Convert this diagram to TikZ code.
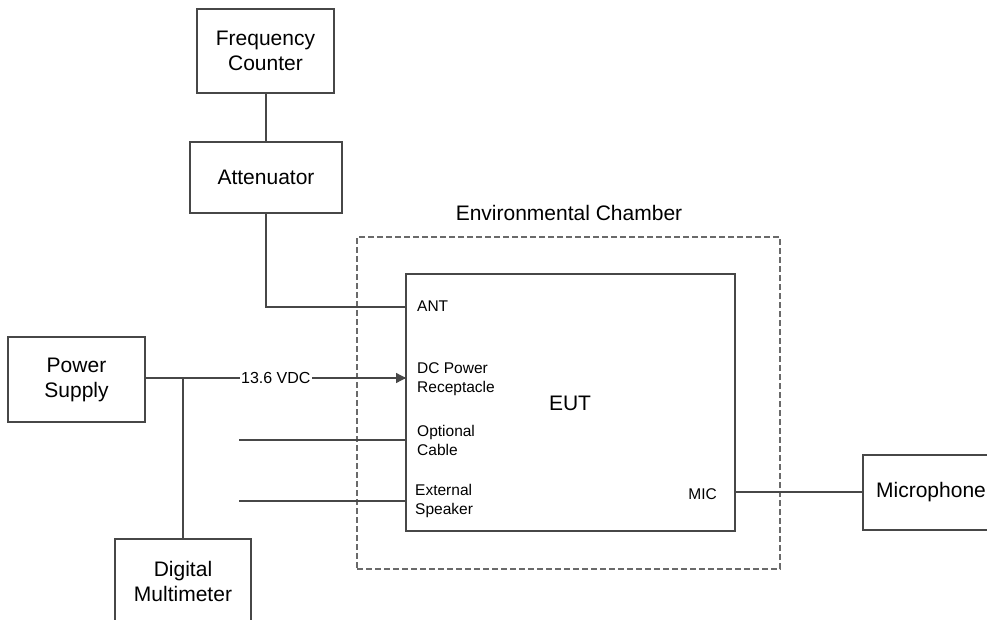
\documentclass[tikz,border=0pt]{standalone}
\usepackage{fontspec}
\setmainfont{Liberation Sans}
\usetikzlibrary{arrows.meta}
\definecolor{linegray}{HTML}{474747}
\definecolor{dashgray}{HTML}{6A6A6A}
\begin{document}
\begin{tikzpicture}[x=1pt,y=-1pt,
  box/.style={draw=linegray, line width=1.3pt, inner sep=0pt, align=center,
    font=\fontsize{21}{25}\selectfont},
  lbl/.style={inner sep=0pt, anchor=west, align=left,
    font=\fontsize{15.5}{19}\selectfont},
  wire/.style={draw=linegray, line width=1.3pt},
  chamber/.style={draw=dashgray, line width=1.3pt, dash pattern=on 6pt off 3pt}]
\clip (0,0) rectangle (987,620);

% boxes
\node[box, minimum width=137pt, minimum height=84pt] (fc) at (265.5,51) {Frequency\\Counter};
\node[box, minimum width=152pt, minimum height=71pt] (att) at (266,177.5) {Attenuator};
\node[box, minimum width=137pt, minimum height=85pt] (ps) at (76.5,379.5) {Power\\Supply};
\node[box, minimum width=136pt, minimum height=84pt] (dmm) at (183,581) {Digital\\Multimeter};
\node[box, minimum width=136pt, minimum height=75pt] (mic) at (931,492.5) {Microphone};

% chamber
\node[chamber, minimum width=423pt, minimum height=332pt, inner sep=0pt] (ch) at (568.5,403) {};
\node[inner sep=0pt, font=\fontsize{21}{25}\selectfont] (chl) at (569,213) {Environmental Chamber};

% EUT
\node[box, minimum width=329pt, minimum height=257pt] (eut) at (570.5,402.5) {};
\node[inner sep=0pt, font=\fontsize{21}{25}\selectfont] (eutl) at (570,403) {EUT};
\node[lbl] (ant) at (417,306) {ANT};
\node[lbl] (dc) at (417,379.5) {DC Power\\Receptacle};
\node[lbl] (opt) at (417,440) {Optional\\Cable};
\node[lbl] (ext) at (415,501) {External\\Speaker};
\node[lbl, anchor=east] (micl) at (717,494) {MIC};

% connection points
\coordinate (antin) at (406,307);
\coordinate (dcin) at (406,378);
\coordinate (junc) at (183,378);
\coordinate (optend) at (239,440);
\coordinate (optin) at (406,440);
\coordinate (extend) at (239,501);
\coordinate (extin) at (406,501);
\coordinate (micout) at (735,492);

% connectors
\draw[wire] (fc.south -| att.north) -- (att.north);
\draw[wire] (att.south) |- (antin);
\draw[wire] (ps.east |- dcin) -- node[fill=white, inner sep=1pt, font=\fontsize{16}{19}\selectfont] (vdc) {13.6 VDC} (dcin);
\draw[wire, -{Triangle[length=10pt,width=10pt]}] (vdc.east) -- (dcin);
\draw[wire] (junc) -- (dmm.north);
\draw[wire] (optend) -- (optin);
\draw[wire] (extend) -- (extin);
\draw[wire] (micout) -- (mic.west |- micout);
\end{tikzpicture}
\end{document}
